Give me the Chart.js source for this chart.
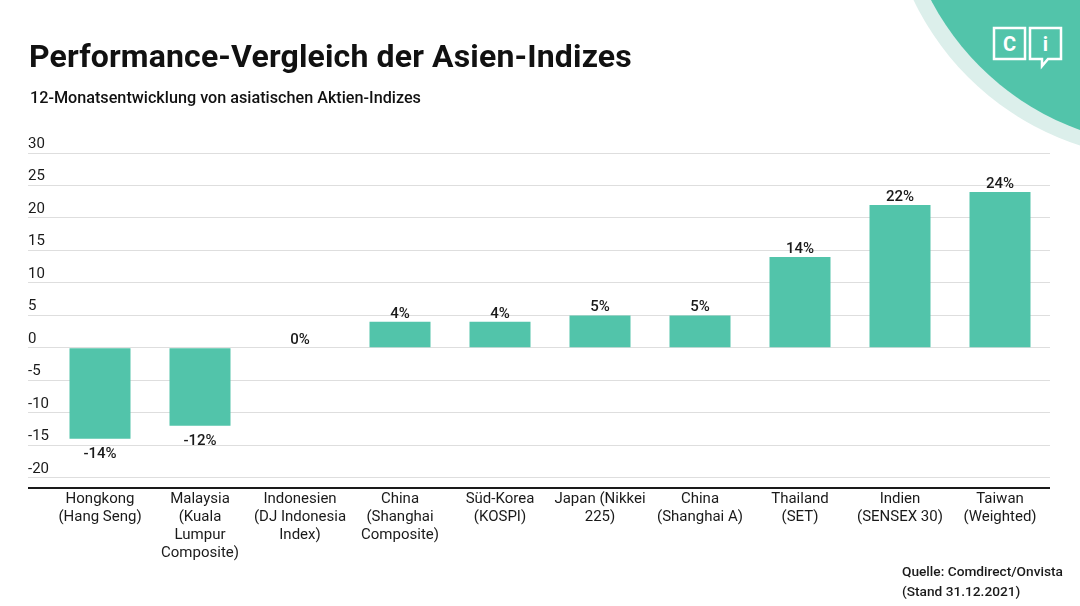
<!DOCTYPE html>
<html lang="de">
<head>
<meta charset="utf-8">
<script src="https://cdn.jsdelivr.net/npm/chart.js@4.4.0/dist/chart.umd.min.js"></script>
<style>
  html, body { margin: 0; padding: 0; background: #fff; }
  body { width: 1080px; height: 606px; position: relative; overflow: hidden; font-family: Roboto, sans-serif; color: #111; }
  #wrap { position: absolute; left: 0; top: 0; width: 1080px; height: 606px; }
  #badge { position: absolute; left: 0; top: 0; }
  .title { position: absolute; left: 29px; top: 40px; font-size: 32px; line-height: 32px; font-weight: 700; letter-spacing: 0.15px; white-space: nowrap; }
  .subtitle { position: absolute; left: 30px; top: 90px; font-size: 16.2px; line-height: 16px; font-weight: 500; white-space: nowrap; }
  .source { position: absolute; left: 902px; top: 561px; font-size: 13.7px; line-height: 20px; font-weight: 500; color: #1a1a1a; white-space: nowrap; }
</style>
</head>
<body>
<svg id="badge" width="1080" height="606" viewBox="0 0 1080 606">
  <circle cx="1166" cy="-121" r="280" fill="#dcefeb"/>
  <circle cx="1172" cy="-126" r="272" fill="#52c4aa"/>
  <g fill="none" stroke="#fff" stroke-width="2.5">
    <rect x="994" y="28" width="31" height="31"/>
    <path d="M1030 28 H1061 V59 H1048 L1042 66 V59 H1030 Z"/>
  </g>
  <text x="1009.5" y="51" fill="#fff" font-family="Roboto" font-weight="700" font-size="20" text-anchor="middle">C</text>
  <text x="1045.5" y="51" fill="#fff" font-family="Roboto" font-weight="700" font-size="20" text-anchor="middle">i</text>
</svg>
<div id="wrap"><canvas id="chart"></canvas></div>
<div class="title">Performance-Vergleich der Asien-Indizes</div>
<div class="subtitle">12-Monatsentwicklung von asiatischen Aktien-Indizes</div>
<div class="source">Quelle: Comdirect/Onvista<br>(Stand 31.12.2021)</div>
<script>
"use strict";

const categories = [
  ["Hongkong", "(Hang Seng)"],
  ["Malaysia", "(Kuala", "Lumpur", "Composite)"],
  ["Indonesien", "(DJ Indonesia", "Index)"],
  ["China", "(Shanghai", "Composite)"],
  ["Süd-Korea", "(KOSPI)"],
  ["Japan (Nikkei", "225)"],
  ["China", "(Shanghai A)"],
  ["Thailand", "(SET)"],
  ["Indien", "(SENSEX 30)"],
  ["Taiwan", "(Weighted)"],
];
const performance = [-14, -12, 0, 4, 4, 5, 5, 14, 22, 24];
const yTicks = [-20, -15, -10, -5, 0, 5, 10, 15, 20, 25, 30];
const Y_MIN = -21.5;
const Y_MAX = 30;

const BAR_COLOR = "#52c4aa";
const GRID_COLOR = "#dedede";
const TEXT_COLOR = "#1a1a1a";

Chart.defaults.font.family = "Roboto, sans-serif";
Chart.defaults.color = TEXT_COLOR;

// prints the percentage above (or below, for losses) each bar
const valueLabels = {
  id: "valueLabels",
  afterDatasetsDraw(chart) {
    const ctx = chart.ctx;
    const meta = chart.getDatasetMeta(0);
    ctx.save();
    ctx.font = "500 15px Roboto, sans-serif";
    ctx.fillStyle = TEXT_COLOR;
    ctx.textAlign = "center";
    ctx.textBaseline = "middle";
    meta.data.forEach((bar, i) => {
      const v = performance[i];
      const y = v < 0 ? bar.y + 15 : bar.y - 8;
      ctx.fillText(`${v}%`, bar.x, y);
    });
    ctx.restore();
  },
};

new Chart(document.getElementById("chart"), {
  type: "bar",
  data: {
    labels: categories,
    datasets: [
      {
        data: performance,
        backgroundColor: BAR_COLOR,
        borderWidth: 0,
        categoryPercentage: 1,
        barPercentage: 0.61,
      },
    ],
  },
  options: {
    responsive: true,
    maintainAspectRatio: false,
    animation: false,
    layout: { padding: { top: 153, left: 28, right: 30, bottom: 18.5 } },
    plugins: {
      legend: { display: false },
      tooltip: { enabled: false },
    },
    scales: {
      x: {
        grid: { display: false, drawTicks: false },
        border: { display: false },
        ticks: {
          color: TEXT_COLOR,
          font: { size: 15, lineHeight: 1.2 },
          padding: 3,
          maxRotation: 0,
          autoSkip: false,
        },
        afterFit(scale) {
          scale.height = 100;
        },
      },
      y: {
        min: Y_MIN,
        max: Y_MAX,
        border: { display: false },
        grid: {
          tickLength: 22,
          color: (c) => (c.tick && c.tick.value === Y_MIN ? "#1a1a1a" : GRID_COLOR),
          lineWidth: (c) => (c.tick && c.tick.value === Y_MIN ? 2 : 1),
        },
        ticks: {
          mirror: true,
          padding: -22,
          labelOffset: -9,
          autoSkip: false,
          color: TEXT_COLOR,
          font: { size: 15 },
          callback: (v) => (yTicks.includes(v) ? String(v) : ""),
        },
        afterBuildTicks(scale) {
          scale.ticks = [{ value: Y_MIN }, ...yTicks.map((v) => ({ value: v }))];
        },
        afterFit(scale) {
          scale.width = 22;
        },
      },
    },
  },
  plugins: [valueLabels],
});
</script>
</body>
</html>
